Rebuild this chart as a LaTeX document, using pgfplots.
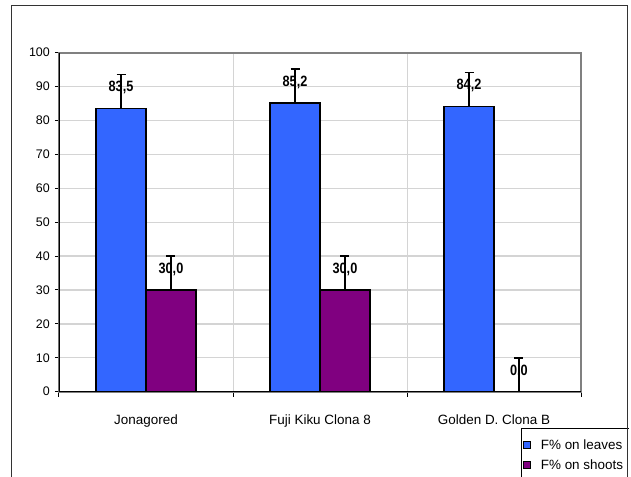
\documentclass[border=0pt]{standalone}
\usepackage{fontspec}
\setmainfont{Liberation Sans}
\usepackage{pgfplots}
\pgfplotsset{compat=1.18}
\usepackage{pgfplotstable}
\definecolor{barblue}{HTML}{3366FF}
\definecolor{barpurple}{HTML}{800080}
\definecolor{gridgray}{HTML}{D4D4D4}
\definecolor{bordergray}{HTML}{808080}
\definecolor{framegray}{HTML}{333333}

\pgfplotstableread{
x y e
0 83.5 10
1 85.2 10
2 84.2 10
}\leaves
\pgfplotstableread{
x y e
0 30.0 10
1 30.0 10
2 0.0 10
}\shoots

\begin{document}
\begin{tikzpicture}
\useasboundingbox (0,0) rectangle (631bp,477bp);
\clip (0,0) rectangle (631bp,477bp);
\fill[white] (0,0) rectangle (631bp,477bp);
\begin{axis}[
  at={(59bp,85.3bp)}, anchor=south west,
  scale only axis, width=522bp, height=339bp,
  ybar=0pt, bar width=0.287,
  xmin=-0.5, xmax=2.5, ymin=0, ymax=100,
  xtick={0,1,2},
  xticklabels={Jonagored, Fuji Kiku Clona 8, Golden D. Clona B},
  minor xtick={-0.5,0.5,1.5,2.5},
  ytick={0,10,...,100},
  xtick pos=bottom, ytick pos=left,
  tick align=outside,
  major tick length=4bp, minor tick length=5bp,
  major x tick style={draw=none},
  minor x tick style={black, line width=1bp},
  y tick style={black, line width=1bp},
  ymajorgrids, xminorgrids,
  major grid style={gridgray, line width=1.3bp},
  minor grid style={gridgray, line width=1bp},
  axis line style={bordergray, line width=1.8bp},
  /pgf/number format/assume math mode=true,
  y tick label style={font=\fontsize{12.5}{14}\selectfont, inner sep=0pt, xshift=-5bp},
  x tick label style={font=\fontsize{13.5}{15}\selectfont, inner sep=0pt, yshift=-19bp},
  nodes near coords={\scalebox{0.85}[1]{\pgfmathprintnumber[fixed,fixed zerofill,precision=1,use comma]{\pgfplotspointmeta}}},
  every node near coord/.append style={font=\bfseries\fontsize{15}{17}\selectfont, anchor=base, yshift=16.7bp, inner sep=0pt},
  legend image code/.code={\path[draw=none,fill=none] (0bp,-3.5bp) rectangle (15bp,3.5bp); \draw[#1,draw=black,line width=1bp] (0bp,-3.5bp) rectangle (7bp,3.5bp);},
  legend style={at={(0.885,-0.106)}, anchor=north west, draw=black, line width=0.8bp,
    font=\fontsize{13.5}{15}\selectfont, inner xsep=2bp, inner ysep=9.5bp, row sep=5bp},
  legend cell align=left,
]
\addplot[fill=barblue, draw=black, line width=1.5bp,
  error bars/.cd, y dir=plus, y explicit,
  error bar style={black, line width=1.5bp},
  error mark options={black, rotate=90, mark size=4.5bp, line width=1.5bp}]
  table[x=x, y=y, y error=e] {\leaves};
\addlegendentry{\makebox[100bp][l]{F\% on leaves}}
\addplot[fill=barpurple, draw=black, line width=1.5bp,
  error bars/.cd, y dir=plus, y explicit,
  error bar style={black, line width=1.5bp},
  error mark options={black, rotate=90, mark size=4.5bp, line width=1.5bp}]
  table[x=x, y=y, y error=e] {\shoots};
\addlegendentry{\makebox[100bp][l]{F\% on shoots}}
\draw[black, line width=1.5bp] (rel axis cs:0,1) -- (rel axis cs:0,0) -- (rel axis cs:1,0);
\end{axis}
\fill[white] (628.5bp,0) rectangle (631bp,477bp);
\draw[framegray, line width=1.5bp] (11.7bp,-10bp) rectangle (627.7bp,471.3bp);
\end{tikzpicture}
\end{document}
